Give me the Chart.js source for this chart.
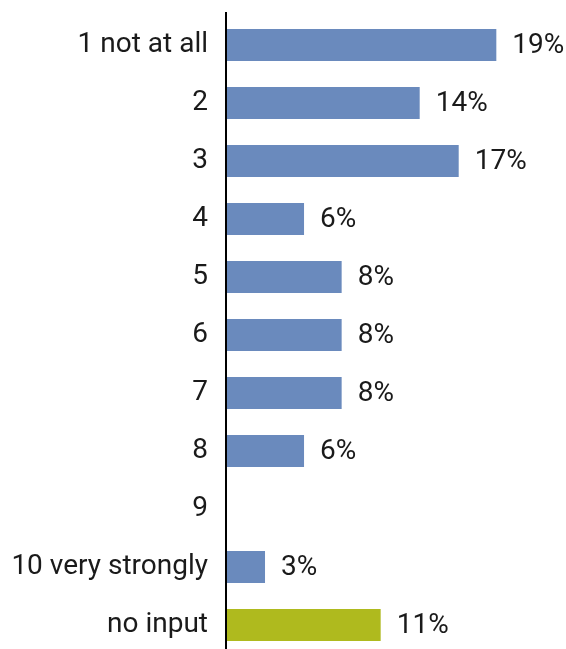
<!DOCTYPE html>
<html>
<head>
<meta charset="utf-8">
<script src="https://cdn.jsdelivr.net/npm/chart.js@4"></script>
<style>
  html, body { margin: 0; padding: 0; background: #fff; overflow: hidden; }
  #wrap { position: relative; width: 566px; height: 654px; }
</style>
</head>
<body>
<div id="wrap"><canvas id="grafico"></canvas></div>
<script>
// datos
const categorias = ['1 not at all', '2', '3', '4', '5', '6', '7', '8', '9', '10 very strongly', 'no input'];
const porcentajes = [19.4, 13.9, 16.7, 5.6, 8.3, 8.3, 8.3, 5.6, 0, 2.8, 11.1];
const etiquetas = ['19%', '14%', '17%', '6%', '8%', '8%', '8%', '6%', '', '3%', '11%'];
const colores = ['#6a8abd', '#6a8abd', '#6a8abd', '#6a8abd', '#6a8abd', '#6a8abd',
                 '#6a8abd', '#6a8abd', '#6a8abd', '#6a8abd', '#afba1e'];

const fuente = 'Roboto, "DejaVu Sans", sans-serif';
const colorTexto = '#1a1a1a';

// linea vertical del eje y etiquetas de valor al final de cada barra
const extras = {
    id: 'extras',
    afterDatasetsDraw(chart) {
        const ctx = chart.ctx;
        const x0 = chart.scales.x.getPixelForValue(0);
        ctx.save();
        ctx.strokeStyle = '#000';
        ctx.lineWidth = 2;
        ctx.beginPath();
        ctx.moveTo(x0, chart.chartArea.top - 4);
        ctx.lineTo(x0, chart.height);
        ctx.stroke();

        ctx.font = '28px ' + fuente;
        ctx.fillStyle = colorTexto;
        ctx.textAlign = 'left';
        ctx.textBaseline = 'middle';
        chart.getDatasetMeta(0).data.forEach((bar, i) => {
            if (!etiquetas[i]) return;
            ctx.fillText(etiquetas[i], bar.x + 16, bar.y + 1);
        });
        ctx.restore();
    }
};

new Chart(document.getElementById('grafico'), {
    type: 'bar',
    data: {
        labels: categorias,
        datasets: [{
            data: porcentajes,
            backgroundColor: colores,
            borderWidth: 0,
            categoryPercentage: 1,
            barPercentage: 0.55
        }]
    },
    options: {
        indexAxis: 'y',
        responsive: true,
        maintainAspectRatio: false,
        animation: false,
        layout: { padding: { top: 16, right: 0, bottom: 0, left: 0 } },
        plugins: {
            legend: { display: false },
            tooltip: { enabled: false }
        },
        scales: {
            x: {
                display: false,
                min: 0,
                max: 24.4,
                grid: { display: false }
            },
            y: {
                afterFit(scale) {
                    scale.width = 226;
                    scale.paddingTop = 0;
                    scale.paddingBottom = 0;
                },
                grid: { display: false, drawTicks: false },
                border: { display: false },
                ticks: {
                    color: colorTexto,
                    padding: 18,
                    font: { family: fuente, size: 28 }
                }
            }
        }
    },
    plugins: [extras]
});
</script>
</body>
</html>
